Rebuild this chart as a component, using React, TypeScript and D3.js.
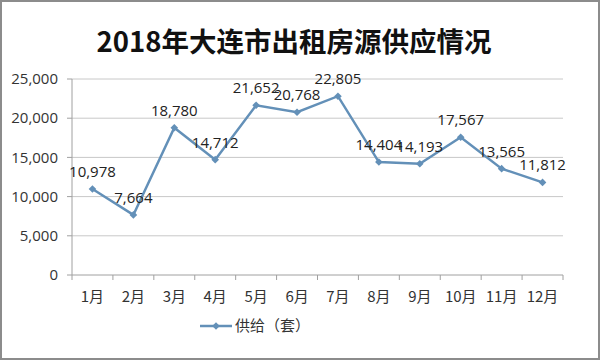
import React from "react";
import * as d3 from "d3";

const months = ["1月","2月","3月","4月","5月","6月","7月","8月","9月","10月","11月","12月"];
const supply = [10978, 7664, 18780, 14712, 21652, 20768, 22805, 14404, 14193, 17567, 13565, 11812];
const yTicks = [0, 5000, 10000, 15000, 20000, 25000];
const title = "2018年大连市出租房源供应情况";
const seriesName = "供给（套）";

const W = 600, H = 360;
const M = { left: 72, right: 563, top: 79, bottom: 275 };
const color = "#6390b8";
const font = "'Open Sans', 'Noto Sans CJK SC', sans-serif";

export default function App() {
  const x = d3.scaleBand().domain(months).range([M.left, M.right]);
  const y = d3.scaleLinear().domain([0, 25000]).range([M.bottom, M.top]);
  const fmt = d3.format(",");
  const line = d3.line<number>()
    .x((_, i) => (x(months[i]) as number) + x.bandwidth() / 2)
    .y(d => y(d));
  const diamond = (cx: number, cy: number, r = 3.8) =>
    `M${cx},${cy - r}L${cx + r},${cy}L${cx},${cy + r}L${cx - r},${cy}Z`;
  const boundaries = d3.range(months.length + 1).map(i => M.left + i * x.step());

  return (
    <svg width={W} height={H} style={{ position: "absolute", left: 0, top: 0, background: "#fff" }} fontFamily={font}>
      <rect x={1} y={1} width={W - 2} height={H - 2} fill="#fff" stroke="#8c8c8c" strokeWidth={2} />
      <text x={294} y={52} textAnchor="middle" fontSize={27.5} fontWeight="bold" fill="#111"
        fontFamily="'Noto Sans CJK SC', sans-serif">{title}</text>
      {yTicks.map(t => (
        <g key={t}>
          {t > 0 && <line x1={M.left} x2={M.right} y1={y(t)} y2={y(t)} stroke="#c8c8c8" strokeWidth={1} />}
          <line x1={M.left - 5} x2={M.left} y1={y(t)} y2={y(t)} stroke="#a0a0a0" />
          <text x={58} y={y(t)} dy="0.35em" textAnchor="end" fontSize={15} fill="#333">{fmt(t)}</text>
        </g>
      ))}
      <line x1={M.left} x2={M.left} y1={M.top} y2={M.bottom} stroke="#a0a0a0" />
      <line x1={M.left} x2={M.right} y1={M.bottom} y2={M.bottom} stroke="#a0a0a0" />
      {boundaries.map((b, i) => (
        <line key={i} x1={b} x2={b} y1={M.bottom} y2={M.bottom + 5} stroke="#a0a0a0" />
      ))}
      {months.map(m => (
        <text key={m} x={(x(m) as number) + x.bandwidth() / 2} y={302} textAnchor="middle" fontSize={15} fill="#333"
          fontFamily="'Noto Sans CJK SC', sans-serif">{m}</text>
      ))}
      <path d={line(supply) as string} fill="none" stroke={color} strokeWidth={2.5} />
      {supply.map((v, i) => {
        const cx = (x(months[i]) as number) + x.bandwidth() / 2;
        const cy = y(v);
        return (
          <g key={i}>
            <path d={diamond(cx, cy)} fill={color} />
            <text x={cx} y={cy - 12} textAnchor="middle" fontSize={15} fill="#222">{fmt(v)}</text>
          </g>
        );
      })}
      <line x1={200} x2={232} y1={326} y2={326} stroke={color} strokeWidth={2.5} />
      <path d={diamond(216, 326)} fill={color} />
      <text x={235} y={326} dy="0.35em" fontSize={15} fill="#333" fontFamily="'Noto Sans CJK SC', sans-serif">{seriesName}</text>
    </svg>
  );
}
